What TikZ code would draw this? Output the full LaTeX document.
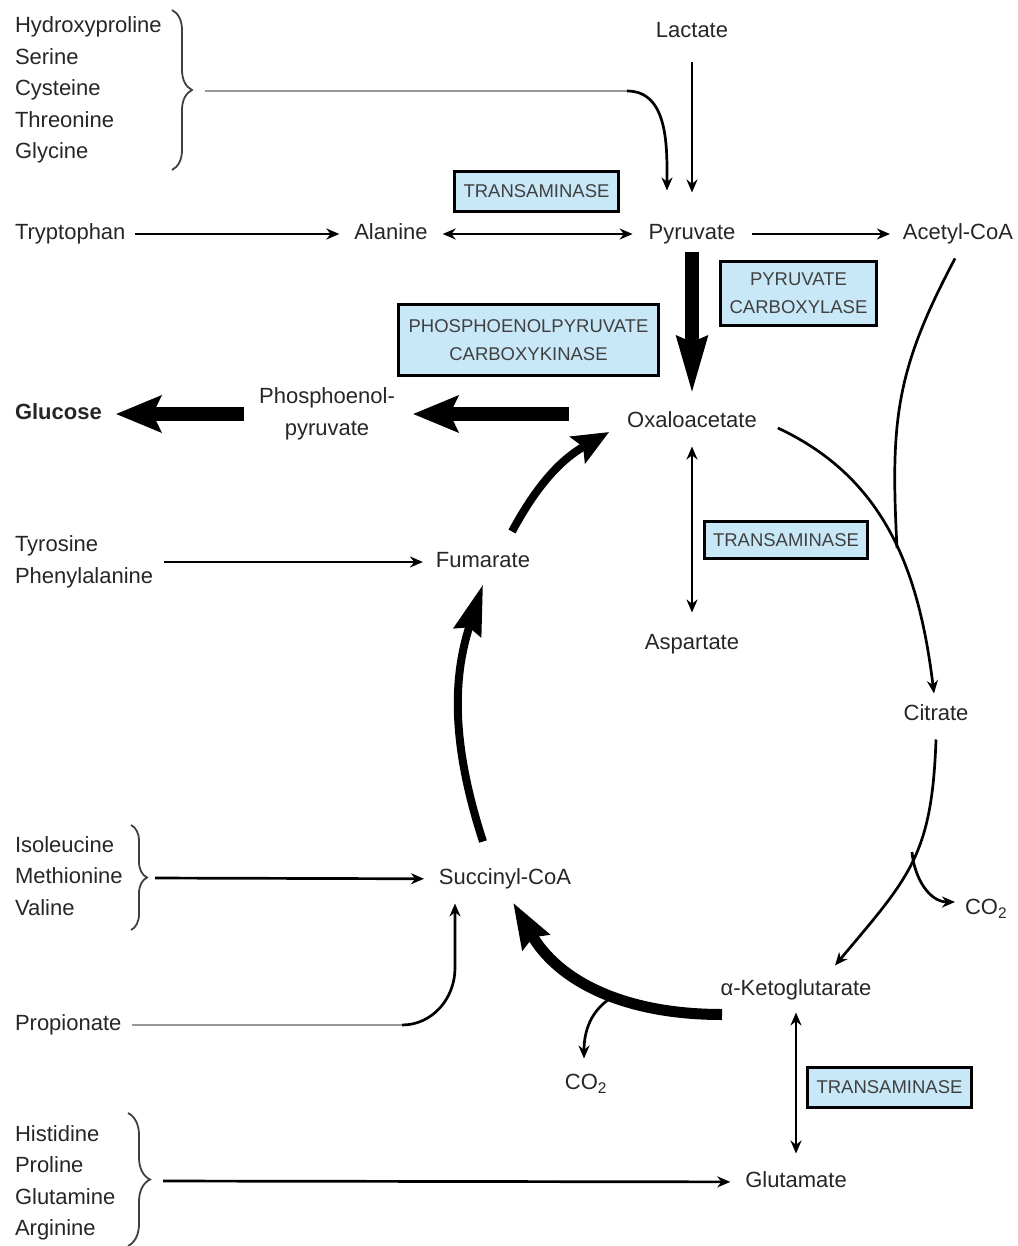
\documentclass[tikz,border=0pt]{standalone}
\usepackage{fontspec}
\setmainfont{Liberation Sans}
\usetikzlibrary{arrows.meta,decorations.pathreplacing}
\definecolor{enzfill}{RGB}{200,232,248}

\begin{document}
\begin{tikzpicture}[
  x=1pt, y=-1pt,
  every node/.style={inner sep=0pt, outer sep=0pt, text=black!85,
                     font=\fontsize{22}{31.5}\selectfont},
  met/.style={text height=16pt, text depth=5pt},
  grp/.style={align=left, anchor=west},
  enz/.style={draw, line width=3pt, fill=enzfill, text=black!75, align=center,
              font=\fontsize{18.5}{28}\selectfont, inner xsep=9pt},
  rxn/.style={line width=2.7pt, -{Stealth[length=13pt,width=11pt]}},
  rev/.style={line width=2.7pt, {Stealth[length=13pt,width=11pt]}-{Stealth[length=13pt,width=11pt]}},
  feed/.style={line width=2.7pt, draw=gray!80},
  brc/.style={decorate, decoration={brace, amplitude=#1}, line width=1.8pt, draw=black!75},
  fat/.style={line width=14pt, -{Stealth[length=45pt,width=36pt,inset=8pt]}},
  cyc/.style={line width=8pt, -{Stealth[length=36pt,width=30pt,inset=6pt]}}
]
  \useasboundingbox (0,0) rectangle (1017,1246);

  % amino acid groups on the left
  \node[grp] (grpA) at (15,90) {Hydroxyproline\\Serine\\Cysteine\\Threonine\\Glycine};
  \node[grp, met] (trp) at (15,234) {Tryptophan};
  \node[grp, met, font=\fontsize{22}{31.5}\selectfont\bfseries] (glc) at (15,414) {Glucose};
  \node[grp] (grpT) at (15,562) {Tyrosine\\Phenylalanine};
  \node[grp] (grpI) at (15,876) {Isoleucine\\Methionine\\Valine};
  \node[grp, met] (prop) at (15,1025) {Propionate};
  \node[grp] (grpH) at (15,1183) {Histidine\\Proline\\Glutamine\\Arginine};

  \draw[brc=20] (172,10) -- (172,170);
  \draw[brc=16] (131,825) -- (131,930);
  \draw[brc=22] (128,1113) -- (128,1246);
  \coordinate (tipA) at (192,91);
  \coordinate (tipB) at (147,878);
  \coordinate (tipC) at (150,1181);

  % metabolites
  \node[met] (lac) at (692,32) {Lactate};
  \node[met] (ala) at (391,234) {Alanine};
  \node[met] (pyr) at (692,234) {Pyruvate};
  \node[met] (acc) at (958,234) {Acetyl-CoA};
  \node[met] (oaa) at (692,422) {Oxaloacetate};
  \node[align=center] (pep) at (327,414) {Phosphoenol-\\pyruvate};
  \node[met] (asp) at (692,644) {Aspartate};
  \node[met] (fum) at (483,562) {Fumarate};
  \node[met] (cit) at (936,715) {Citrate};
  \node[met] (suc) at (505,879) {Succinyl-CoA};
  \node[met] (akg) at (796,990) {α-Ketoglutarate};
  \node[met] (glu) at (796,1182) {Glutamate};
  \node[met, anchor=west] (co2a) at (965,909) {CO\textsubscript{2}};
  \node[met] (co2b) at (586,1084) {CO\textsubscript{2}};

  % enzymes
  \node[enz, minimum width=162pt, minimum height=40pt] (trA) at (536.5,191.5) {TRANSAMINASE};
  \node[enz, minimum width=154pt, minimum height=64pt] (pc) at (798.5,293.5) {PYRUVATE\\CARBOXYLASE};
  \node[enz, minimum width=260pt, minimum height=71pt] (pepck) at (528.5,340) {PHOSPHOENOLPYRUVATE\\CARBOXYKINASE};
  \node[enz, minimum width=161pt, minimum height=37pt] (trB) at (786,540) {TRANSAMINASE};
  \node[enz, minimum width=162pt, minimum height=40pt] (trC) at (889.5,1087.5) {TRANSAMINASE};

  % feeds into pyruvate
  \coordinate (bendA) at (627,91);
  \draw[feed, shorten <=13pt] (tipA) -- (bendA);
  \draw[rxn] (bendA) to[out=0,in=90] ([xshift=-25pt,yshift=33pt]pyr.north);
  \draw[rxn, shorten <=20pt, shorten >=31pt] (lac) -- (pyr);
  \draw[rxn, shorten <=10pt, shorten >=15pt] (trp) -- (ala);
  \draw[rev, shorten <=15pt, shorten >=16pt] (ala) -- (pyr);
  \draw[rxn, shorten <=17pt, shorten >=13pt] (pyr) -- (acc);

  % gluconeogenic route
  \draw[line width=14pt, -{Stealth[length=57pt,width=28pt,inset=4pt]},
        shorten <=8pt, shorten >=16pt] (pyr) -- (oaa);
  \draw[fat, shorten <=58pt, shorten >=18pt] (oaa.west |- pep) -- (pep);
  \draw[fat, shorten <=15pt, shorten >=14pt] (pep) -- (glc);
  \draw[rev, shorten <=14pt, shorten >=21pt] (oaa) -- (asp);

  % citric acid cycle
  \draw[rxn] ([xshift=21pt,yshift=-6pt]oaa.east) to[out=-25,in=97] ([xshift=-2pt,yshift=11pt]cit.north);
  \coordinate (mrg) at (897,548);
  \draw[line width=2.7pt] ([xshift=-3pt,yshift=-14pt]acc.south) to[out=-118,in=93,looseness=1.1] (mrg);
  \draw[rxn] ([yshift=-14pt]cit.south) to[out=-92,in=50,looseness=1.2] ([xshift=39pt,yshift=14pt]akg.north);
  \coordinate (brA) at (912,852);
  \draw[rxn] (brA) to[out=-85,in=180] ([xshift=-10pt,yshift=7pt]co2a.west);
  \draw[line width=11pt, -{Stealth[length=45pt,width=30pt,inset=5pt]}]
        ([xshift=-74pt,yshift=-14pt]akg.south) to[out=180,in=-60,out looseness=1.1,in looseness=0.95]
        ([xshift=8pt,yshift=-13pt]suc.south);
  \coordinate (brB) at (614,996);
  \draw[rxn] (brB) to[out=-150,in=90] ([xshift=-2pt,yshift=15pt]co2b.north);
  \draw[line width=8pt, -{Stealth[length=50pt,width=28pt,inset=5pt]}]
        ([xshift=-22pt,yshift=27pt]suc.north) to[bend left=18] ([yshift=-12pt]fum.south);
  \draw[cyc] ([xshift=29pt,yshift=20pt]fum.north) to[bend left=16] ([xshift=-18pt,yshift=-10pt]oaa.west);
  \draw[rev, shorten <=12pt, shorten >=18pt] (akg) -- (glu);

  % other feeds
  \draw[rxn, shorten <=11pt, shorten >=13pt] (grpT) -- (fum);
  \draw[rxn, shorten <=8pt, shorten >=15pt] (tipB) -- (suc);
  \coordinate (bendP) at (402,1025);
  \draw[feed, shorten <=11pt] (prop) -- (bendP);
  \draw[rxn] (bendP) to[out=0,in=-90] (455,968) -- ([xshift=-50pt,yshift=-14pt]suc.south);
  \draw[rxn, shorten <=13pt, shorten >=15pt] (tipC) -- (glu);
\end{tikzpicture}
\end{document}
